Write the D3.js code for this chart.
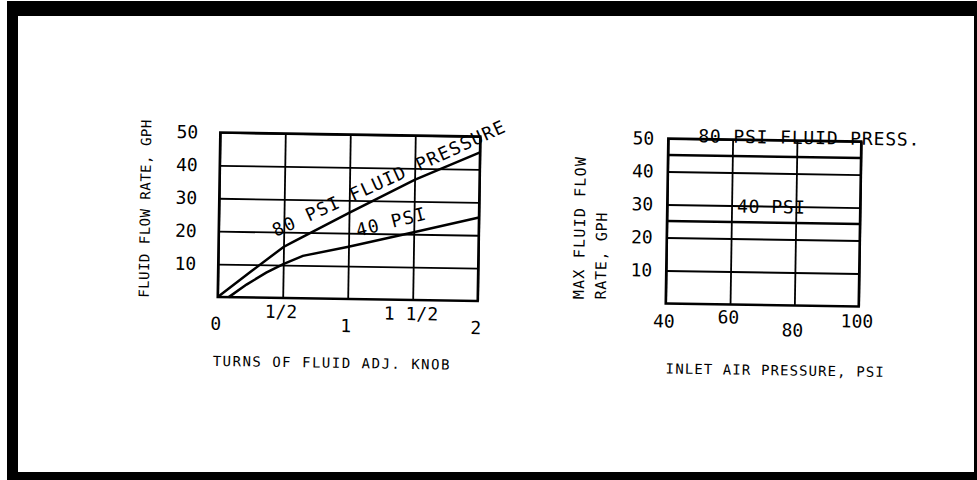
<html>
<head>
  <meta charset="utf-8" />
  <script src="https://cdnjs.cloudflare.com/ajax/libs/d3/7.8.5/d3.min.js"></script>
  <style>
    body { margin: 0; background: #fff; }
    text { font-family: "DejaVu Sans Mono", monospace; fill: #000; }
    path.domain { display: none; }
    .grid line { stroke: #000; stroke-width: 1.8; }
    .lbl line { display: none; }
    .lbl text { font-size: 18px; }
  </style>
</head>
<body>
<svg width="977" height="480"></svg>
<script>
// left chart: fluid flow rate vs turns of the knob
var turnTicks = [0, 0.5, 1, 1.5, 2]
var turnLabels = ["0", "1/2", "1", "1 1/2", "2"]
var flowTicks = [10, 20, 30, 40, 50]
var psi80Turns = [0, 0.25, 0.5, 0.57, 1, 1.5, 2]
var psi80Flow = [0, 7.8, 15.5, 17, 26.2, 36.5, 45.2]
var psi40Turns = [0.085, 0.22, 0.37, 0.5, 0.65, 1, 1.5, 2]
var psi40Flow = [0, 3.9, 7.6, 10.3, 12.9, 15.9, 20.6, 25.4]

// right chart: max fluid flow vs inlet air pressure
var airTicks = [40, 60, 80, 100]
var maxFlowTicks = [10, 20, 30, 40, 50]
var airPress = [40, 100]
var maxFlow80 = [45, 45]
var maxFlow40 = [25, 25]

var svg = d3.select("svg")

// scanned frame
svg.append("rect").attr("x", 7).attr("y", 1).attr("width", 11).attr("height", 479)
svg.append("rect").attr("x", 7).attr("y", 1).attr("width", 970).attr("height", 15)
svg.append("rect").attr("x", 974).attr("y", 1).attr("width", 3).attr("height", 479)
svg.append("rect").attr("x", 7).attr("y", 472).attr("width", 970).attr("height", 8)

var line = d3.line().x(d => d[0]).y(d => d[1])

function panel(g, x, y, xTicks, xFmt, yTicks, yPad, drops) {
  var w = x.range()[1] - x.range()[0]
  var h = y.range()[0] - y.range()[1]
  g.append("g").attr("class", "grid")
    .attr("transform", `translate(${x.range()[0]},0)`)
    .call(d3.axisLeft(y).tickValues(yTicks).tickSize(-w).tickFormat(""))
  g.append("g").attr("class", "grid")
    .attr("transform", `translate(0,${y.range()[0]})`)
    .call(d3.axisBottom(x).tickValues(xTicks).tickSize(-h).tickFormat(""))
  g.append("rect")
    .attr("x", x.range()[0]).attr("y", y.range()[1])
    .attr("width", w).attr("height", h)
    .style("fill", "none").style("stroke", "#000").style("stroke-width", 2.5)
  g.append("g").attr("class", "lbl")
    .attr("transform", `translate(${x.range()[0]},0)`)
    .call(d3.axisLeft(y).tickValues(yTicks).tickSize(0).tickPadding(yPad))
  g.append("g").attr("class", "lbl")
    .attr("transform", `translate(-2,${y.range()[0]})`)
    .call(d3.axisBottom(x).tickValues(xTicks).tickSize(0).tickFormat(xFmt))
    .selectAll("text").attr("dy", 0).attr("y", (d, i) => drops[i])
}

function curve(g, x, y, xs, ys) {
  g.append("path")
    .attr("d", line(xs.map((v, i) => [x(v), y(ys[i])])))
    .style("fill", "none").style("stroke", "#000").style("stroke-width", 2.5)
}

function label(g, px, py, ang, txt, size, sp) {
  g.append("text")
    .attr("transform", `translate(${px},${py}) rotate(${ang})`)
    .style("font-size", size + "px").style("letter-spacing", sp + "px")
    .text(txt)
}

// left panel
var xL = d3.scaleLinear().domain([0, 2]).range([219, 479])
var yL = d3.scaleLinear().domain([0, 50]).range([299, 134.5])
var gL = svg.append("g").attr("transform", "rotate(0.9,349,216)")
panel(gL, xL, yL, turnTicks, (d, i) => turnLabels[i], flowTicks, 22, [33, 20, 33, 20, 33])
curve(gL, xL, yL, psi80Turns, psi80Flow)
curve(gL, xL, yL, psi40Turns, psi40Flow)
label(gL, xL(0.44), yL(18.5), -25.5, "80 PSI FLUID PRESSURE", 18, 1.3)
label(gL, xL(1.07), yL(19), -15, "40 PSI", 18, 1.2)
label(gL, 215, 368, 0, "TURNS OF FLUID ADJ. KNOB", 14, 1.5)
label(gL, 150, 301, -90, "FLUID FLOW RATE, GPH", 14, 0.5)

// right panel
var xR = d3.scaleLinear().domain([40, 100]).range([667, 860])
var yR = d3.scaleLinear().domain([0, 50]).range([305, 140])
var gR = svg.append("g").attr("transform", "rotate(0.9,763,222)")
panel(gR, xR, yR, airTicks, d => d, maxFlowTicks, 14, [24, 19, 31, 21])
curve(gR, xR, yR, airPress, maxFlow80)
curve(gR, xR, yR, airPress, maxFlow40)
label(gR, xR(49.3), yR(49), 0, "80 PSI FLUID PRESS.", 18, 0.85)
label(gR, xR(61.7), yR(27.9), 0, "40 PSI", 18, 0.6)
label(gR, 668, 375, 0, "INLET AIR PRESSURE, PSI", 14, 1.1)
label(gR, 585, 302, -90, "MAX FLUID FLOW", 15, 1.2)
label(gR, 607, 302, -90, "RATE, GPH", 15, 0.7)
</script>
</body>
</html>
